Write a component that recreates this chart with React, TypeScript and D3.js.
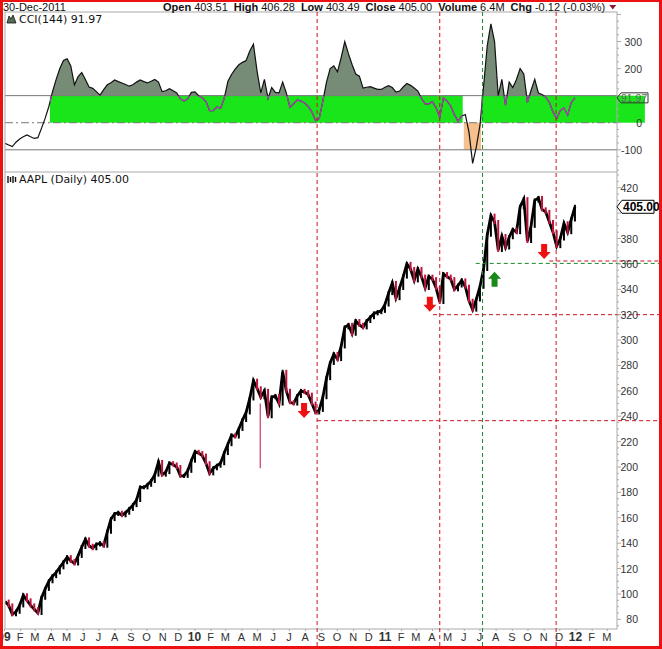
import * as d3 from "d3";
import { useEffect, useRef } from "react";

// weekly closes of AAPL, Friday 2 Jan 2009 .. Friday 30 Dec 2011
const firstWeek = "2009-01-02";
const closes = [
  94, 91, 84, 86, 91, 99, 95, 91, 88, 85,
  97, 104, 110, 114, 117, 121, 125, 129, 126, 124,
  130, 137, 143, 138, 136, 139, 140, 138, 149, 159,
  163, 164, 162, 164, 167, 170, 174, 184, 184, 186,
  189, 194, 204, 194, 196, 203, 202, 200, 193, 193,
  197, 205, 212, 211, 209, 203, 195, 199, 201, 203,
  211, 218, 225, 224, 230, 237, 243, 254, 268, 262,
  255, 260, 240, 255, 256, 250, 275, 260, 251, 250,
  256, 260, 259, 257, 250, 243, 245, 255, 270, 282,
  289, 285, 295, 310, 312, 305, 315, 312, 310, 315,
  318, 321, 322, 323, 328, 337, 345, 333, 341, 350,
  360, 356, 347, 356, 350, 341, 350, 348, 341, 330,
  352, 350, 348, 340, 343, 347, 342, 331, 324, 332,
  342, 356, 383, 398, 393, 371, 382, 373, 381, 387,
  385, 405, 411, 378, 390, 410, 412, 403, 401, 393,
  385, 374, 380, 392, 385, 395, 405,
];

// CCI(144) on the same weekly dates
const cciValues = [
  -76, -82, -88, -72, -60, -52, -45, -52, -58, -55,
  -20, 17, 60, 115, 160, 200, 230, 236, 210, 140,
  170, 185, 160, 132, 127, 115, 102, 122, 140, 148,
  158, 152, 147, 141, 135, 140, 150, 158, 152, 147,
  153, 160, 150, 115, 118, 126, 118, 110, 88, 80,
  88, 112, 114, 100, 92, 78, 45, 45, 58, 53,
  90, 152, 178, 198, 214, 223, 230, 265, 290, 190,
  110, 160, 90, 130, 112, 110, 150, 110, 57, 70,
  84, 80, 73, 60, 40, 8, 15, 80, 150, 200,
  210, 188, 240, 300, 255, 215, 180, 172, 128, 131,
  133, 128, 123, 123, 131, 137, 130, 113, 117, 132,
  145, 138, 128, 117, 90, 70, 70, 78, 55, 20,
  92, 80, 62, 30, 5, 25, 30, -35, -150, -90,
  -10, 135, 285, 365, 300, 100, 160, 65, 150, 130,
  160, 200, 180, 75, 120, 160, 110, 104, 95, 75,
  40, 15, 45, 55, 28, 75, 91.97,
];

const lastClose = 405.0;
const lastCci = 91.97;

const headerDate = "30-Dec-2011";
const headerLabels = ["Open", "High", "Low", "Close", "Volume", "Chg"];
const headerValues = ["403.51", "406.28", "403.49", "405.00", "6.4M", "-0.12 (-0.03%)"];

const priceTicks = [80, 100, 120, 140, 160, 180, 200, 220, 240, 260, 280, 300, 320, 340, 360, 380, 420];
const cciTicks = [300, 200, 0, -100];
const cciGuides = [100, -100];

const greenBandSpans = [
  ["2009-03-29", "2011-05-29"],
  ["2011-07-04", "2012-05-12"],
];
const orangeSpan = ["2011-05-31", "2011-07-03"];

const redVerticalDates = ["2010-08-23", "2011-04-15", "2011-11-24"];
const greenVerticalDates = ["2011-07-06"];
const redLevels = [
  { from: "2010-08-23", price: 236.5 },
  { from: "2011-04-02", price: 320 },
  { from: "2011-11-11", price: 362.3 },
];
const greenLevels = [{ from: "2011-06-23", price: 360.4 }];
const downArrows = [
  { date: "2010-07-29", price: 238.6 },
  { date: "2011-03-27", price: 322.3 },
  { date: "2011-11-01", price: 363.8 },
];
const upArrows = [{ date: "2011-07-29", price: 353.8 }];
const spikes = [{ date: "2010-05-06", high: 250, low: 199 }];

export default function App() {
  const svgRef = useRef<SVGSVGElement | null>(null);

  useEffect(() => {
    if (!svgRef.current) return;
    const svg = d3.select(svgRef.current);
    svg.selectAll("*").remove();

    const width = 662;
    const height = 649;
    const left = 5;
    const right = 617;
    const cciTop = 12;
    const cciBottom = 172;
    const priceTop = 172;
    const priceBottom = 629;
    const font = "'Liberation Sans', Arial, sans-serif";
    const legendFont = "'DejaVu Sans', Verdana, sans-serif";
    const barRed = "#c0143c";
    const lineRed = "#cc1122";
    const lineGreen = "#1a8a2a";

    const parse = d3.timeParse("%Y-%m-%d");
    const d = (s: string) => parse(s) as Date;

    const x = d3
      .scaleTime()
      .domain([new Date(2009, 0, 1), new Date(2012, 2, 20)])
      .range([4.5, 617.2]);
    const yC = d3.scaleLinear().domain([-182, 409]).range([cciBottom, cciTop]);
    const yP = d3.scaleLinear().domain([72.4, 432.4]).range([priceBottom, priceTop]);

    const start = d(firstWeek);
    const weeks = closes.map((_, i) => d3.timeDay.offset(start, 7 * i));

    svg.attr("width", width).attr("height", height).attr("viewBox", `0 0 ${width} ${height}`);

    // frame
    svg.append("rect").attr("width", width).attr("height", height).attr("fill", "#ee1111");
    svg.append("rect").attr("x", 3).attr("y", 2).attr("width", 656).attr("height", 644).attr("fill", "#fff");

    const defs = svg.append("defs");
    defs.append("clipPath").attr("id", "cciClip")
      .append("rect").attr("x", left).attr("y", cciTop).attr("width", right - left).attr("height", cciBottom - cciTop);
    defs.append("clipPath").attr("id", "aboveClip")
      .append("rect").attr("x", left).attr("y", cciTop).attr("width", right - left).attr("height", yC(100) - cciTop);
    defs.append("clipPath").attr("id", "priceClip")
      .append("rect").attr("x", left).attr("y", priceTop).attr("width", right - left).attr("height", priceBottom - priceTop);
    const bandClip = defs.append("clipPath").attr("id", "bandClip");
    greenBandSpans.forEach(([a, b]) =>
      bandClip.append("rect").attr("x", x(d(a))).attr("y", yC(100)).attr("width", x(d(b)) - x(d(a))).attr("height", yC(0) - yC(100)),
    );

    // ---- CCI panel ----
    const cci = svg.append("g");
    cci.selectAll("rect.band").data(greenBandSpans).join("rect")
      .attr("x", (s) => x(d(s[0])))
      .attr("width", (s) => x(d(s[1])) - x(d(s[0])))
      .attr("y", yC(100))
      .attr("height", yC(0) - yC(100))
      .attr("fill", "#19e619");
    cci.append("rect")
      .attr("x", x(d(orangeSpan[0])))
      .attr("width", x(d(orangeSpan[1])) - x(d(orangeSpan[0])))
      .attr("y", yC(0))
      .attr("height", yC(-100) - yC(0))
      .attr("fill", "#f5c08c");

    const cciPts = cciValues.map((v, i) => ({ date: weeks[i], v }));
    const area = d3.area<{ date: Date; v: number }>()
      .x((p) => x(p.date)).y0(yC(100)).y1((p) => yC(p.v));
    cci.append("path").datum(cciPts).attr("d", area).attr("fill", "#778c76").attr("clip-path", "url(#aboveClip)");

    cci.selectAll("line.guide").data(cciGuides).join("line")
      .attr("x1", left).attr("x2", right)
      .attr("y1", (v) => yC(v)).attr("y2", (v) => yC(v))
      .attr("stroke", "#777").attr("stroke-width", 1);
    cci.append("line")
      .attr("x1", left).attr("x2", right).attr("y1", yC(0)).attr("y2", yC(0))
      .attr("stroke", "#777").attr("stroke-dasharray", "8,3,2,3");

    const cciLine = d3.line<{ date: Date; v: number }>().x((p) => x(p.date)).y((p) => yC(p.v));
    cci.append("path").datum(cciPts).attr("d", cciLine)
      .attr("fill", "none").attr("stroke", "#111").attr("stroke-width", 1.2).attr("clip-path", "url(#cciClip)");
    cci.append("path").datum(cciPts).attr("d", cciLine)
      .attr("fill", "none").attr("stroke", "#b040b8").attr("stroke-width", 1.3).attr("clip-path", "url(#bandClip)");

    // ---- price panel ----
    const price = svg.append("g").attr("clip-path", "url(#priceClip)");
    const pts = closes.map((c, i) => ({ date: weeks[i], c }));
    price.append("path").datum(pts)
      .attr("d", d3.line<{ date: Date; c: number }>().x((p) => x(p.date)).y((p) => yP(p.c)))
      .attr("fill", "none").attr("stroke", "#000").attr("stroke-width", 2.8);
    // weekly bars: from previous close to close, extended a little for the daily range
    price.selectAll("line.bar").data(pts.slice(1)).join("line")
      .attr("x1", (p) => x(p.date)).attr("x2", (p) => x(p.date))
      .attr("y1", (p, i) => (p.c < pts[i].c ? yP(pts[i].c) - 2 : yP(pts[i].c) + 2))
      .attr("y2", (p, i) => (p.c < pts[i].c ? yP(p.c) + 2 : yP(p.c) - 2))
      .attr("stroke", (p, i) => (p.c < pts[i].c ? barRed : "#000"))
      .attr("stroke-width", 2);
    price.selectAll("line.spike").data(spikes).join("line")
      .attr("x1", (s) => x(d(s.date))).attr("x2", (s) => x(d(s.date)))
      .attr("y1", (s) => yP(s.high)).attr("y2", (s) => yP(s.low))
      .attr("stroke", barRed).attr("stroke-width", 1);

    // panel borders
    svg.append("rect").attr("x", left).attr("y", cciTop).attr("width", right - left).attr("height", priceBottom - cciTop)
      .attr("fill", "none").attr("stroke", "#aaa");
    svg.append("line").attr("x1", left).attr("x2", right).attr("y1", cciBottom).attr("y2", cciBottom).attr("stroke", "#aaa");

    // annotation lines
    const ann = svg.append("g");
    ann.selectAll("line.rv").data(redVerticalDates).join("line")
      .attr("x1", (s) => x(d(s))).attr("x2", (s) => x(d(s)))
      .attr("y1", cciTop).attr("y2", 646)
      .attr("stroke", lineRed).attr("stroke-dasharray", "4,3");
    ann.selectAll("line.gv").data(greenVerticalDates).join("line")
      .attr("x1", (s) => x(d(s))).attr("x2", (s) => x(d(s)))
      .attr("y1", cciTop).attr("y2", 646)
      .attr("stroke", lineGreen).attr("stroke-dasharray", "4,3");
    ann.selectAll("line.rh").data(redLevels).join("line")
      .attr("x1", (l) => x(d(l.from))).attr("x2", 659)
      .attr("y1", (l) => yP(l.price)).attr("y2", (l) => yP(l.price))
      .attr("stroke", lineRed).attr("stroke-dasharray", "4,3");
    ann.selectAll("line.gh").data(greenLevels).join("line")
      .attr("x1", (l) => x(d(l.from))).attr("x2", 659)
      .attr("y1", (l) => yP(l.price)).attr("y2", (l) => yP(l.price))
      .attr("stroke", lineGreen).attr("stroke-dasharray", "4,3");

    const downShape = "M0,0 L-6.5,-7 L-3,-7 L-3,-15 L3,-15 L3,-7 L6.5,-7 Z";
    const upShape = "M0,0 L-6.5,7 L-3,7 L-3,15 L3,15 L3,7 L6.5,7 Z";
    ann.selectAll("path.down").data(downArrows).join("path")
      .attr("d", downShape)
      .attr("transform", (a) => `translate(${x(d(a.date))},${yP(a.price)})`)
      .attr("fill", "#ee1111");
    ann.selectAll("path.up").data(upArrows).join("path")
      .attr("d", upShape)
      .attr("transform", (a) => `translate(${x(d(a.date))},${yP(a.price)})`)
      .attr("fill", "#178a17");

    // ---- right axes ----
    const axis = svg.append("g").attr("font-family", font).attr("font-size", 10.5).attr("fill", "#333");
    axis.selectAll("line.pt").data(d3.range(75, 431, 5)).join("line")
      .attr("x1", right).attr("x2", (v) => (v % 20 === 0 ? right + 4 : right + 2))
      .attr("y1", (v) => yP(v)).attr("y2", (v) => yP(v)).attr("stroke", "#aaa");
    axis.selectAll("line.ct").data(d3.range(-175, 401, 25)).join("line")
      .attr("x1", right).attr("x2", (v) => (v % 100 === 0 ? right + 4 : right + 2))
      .attr("y1", (v) => yC(v)).attr("y2", (v) => yC(v)).attr("stroke", "#aaa");
    axis.selectAll("text.pl").data(priceTicks).join("text")
      .attr("x", 638).attr("y", (v) => yP(v) + 4).attr("text-anchor", "end").text((v) => v);
    axis.selectAll("text.cl").data(cciTicks).join("text")
      .attr("x", 642).attr("y", (v) => yC(v) + 4).attr("text-anchor", "end").text((v) => v);

    // last-value tags
    const py = yP(lastClose);
    svg.append("path")
      .attr("d", `M${right},${py} L${right + 5},${py - 6.5} L654,${py - 6.5} L654,${py + 6.5} L${right + 5},${py + 6.5} Z`)
      .attr("fill", "#fff").attr("stroke", "#000");
    svg.append("text").attr("x", 623).attr("y", py + 4.5)
      .attr("font-family", font).attr("font-size", 12).attr("font-weight", "bold").attr("fill", "#000")
      .text(lastClose.toFixed(2));
    const cy = yC(lastCci);
    svg.append("path")
      .attr("d", `M${right},${cy} L${right + 4},${cy - 5} L648,${cy - 5} L648,${cy + 5} L${right + 4},${cy + 5} Z`)
      .attr("fill", "none").attr("stroke", "#333");
    svg.append("text").attr("x", 621).attr("y", cy + 4)
      .attr("font-family", font).attr("font-size", 10.5).attr("fill", "#666")
      .text(lastCci.toFixed(2));

    // ---- bottom month axis ----
    const months = d3.timeMonth.range(new Date(2009, 0, 1), new Date(2012, 2, 2));
    const xAxis = svg.append("g").attr("font-family", font).attr("font-size", 11).attr("fill", "#333").attr("text-anchor", "middle");
    xAxis.selectAll("line").data(months).join("line")
      .attr("x1", (m) => x(m)).attr("x2", (m) => x(m))
      .attr("y1", priceBottom).attr("y2", priceBottom + 2).attr("stroke", "#aaa");
    xAxis.selectAll("text").data(months).join("text")
      .attr("x", (m) => x(m) - 0.5)
      .attr("y", 641)
      .attr("font-weight", (m) => (m.getMonth() === 0 ? "bold" : "normal"))
      .attr("font-size", (m) => (m.getMonth() === 0 ? 12 : 11))
      .text((m) => (m.getMonth() === 0 ? d3.timeFormat("%y")(m) : d3.timeFormat("%b")(m)[0]));

    // redraw frame edges over clipped labels
    svg.append("rect").attr("x", 0).attr("y", 0).attr("width", 3).attr("height", height).attr("fill", "#ee1111");
    svg.append("rect").attr("x", 0).attr("y", 646).attr("width", width).attr("height", 3).attr("fill", "#ee1111");
    svg.append("rect").attr("x", 659).attr("y", 0).attr("width", 3).attr("height", height).attr("fill", "#ee1111");

    // ---- legends ----
    const leg = svg.append("g").attr("font-family", legendFont).attr("font-size", 11).attr("fill", "#111");
    leg.append("path").attr("d", "M7,23 L9,16 L11,19 L13,15 L16,23 Z").attr("fill", "#556b55").attr("stroke", "#111").attr("stroke-width", 0.8);
    leg.append("text").attr("x", 19).attr("y", 23).text(`CCI(144) ${lastCci.toFixed(2)}`);
    const bx = [8, 10.5, 13, 15.5];
    leg.selectAll("line.ic").data(bx).join("line")
      .attr("x1", (v) => v).attr("x2", (v) => v)
      .attr("y1", (_, i) => 176 + (i % 2)).attr("y2", (_, i) => 183 - (i % 2))
      .attr("stroke", "#111").attr("stroke-width", 1.4);
    leg.append("text").attr("x", 19).attr("y", 183).text(`AAPL (Daily) ${lastClose.toFixed(2)}`);

    // ---- header ----
    const head = svg.append("g").attr("font-family", font).attr("font-size", 11).attr("fill", "#111");
    head.append("text").attr("x", 3).attr("y", 11).text(headerDate);
    const line = head.append("text").attr("x", 163).attr("y", 11);
    headerLabels.forEach((lab, i) => {
      line.append("tspan").attr("dx", i === 0 ? 0 : 6).attr("font-weight", "bold").text(lab);
      line.append("tspan").attr("dx", 3).text(headerValues[i]);
    });
    const box = (line.node() as SVGTextElement).getBBox();
    const end = box.x + box.width;
    head.append("path")
      .attr("d", `M${end + 4},5 L${end + 11},5 L${end + 7.5},9.5 Z`)
      .attr("fill", "#8a1836");
  }, []);

  return <svg ref={svgRef} style={{ position: "absolute", left: 0, top: 0 }}></svg>;
}
